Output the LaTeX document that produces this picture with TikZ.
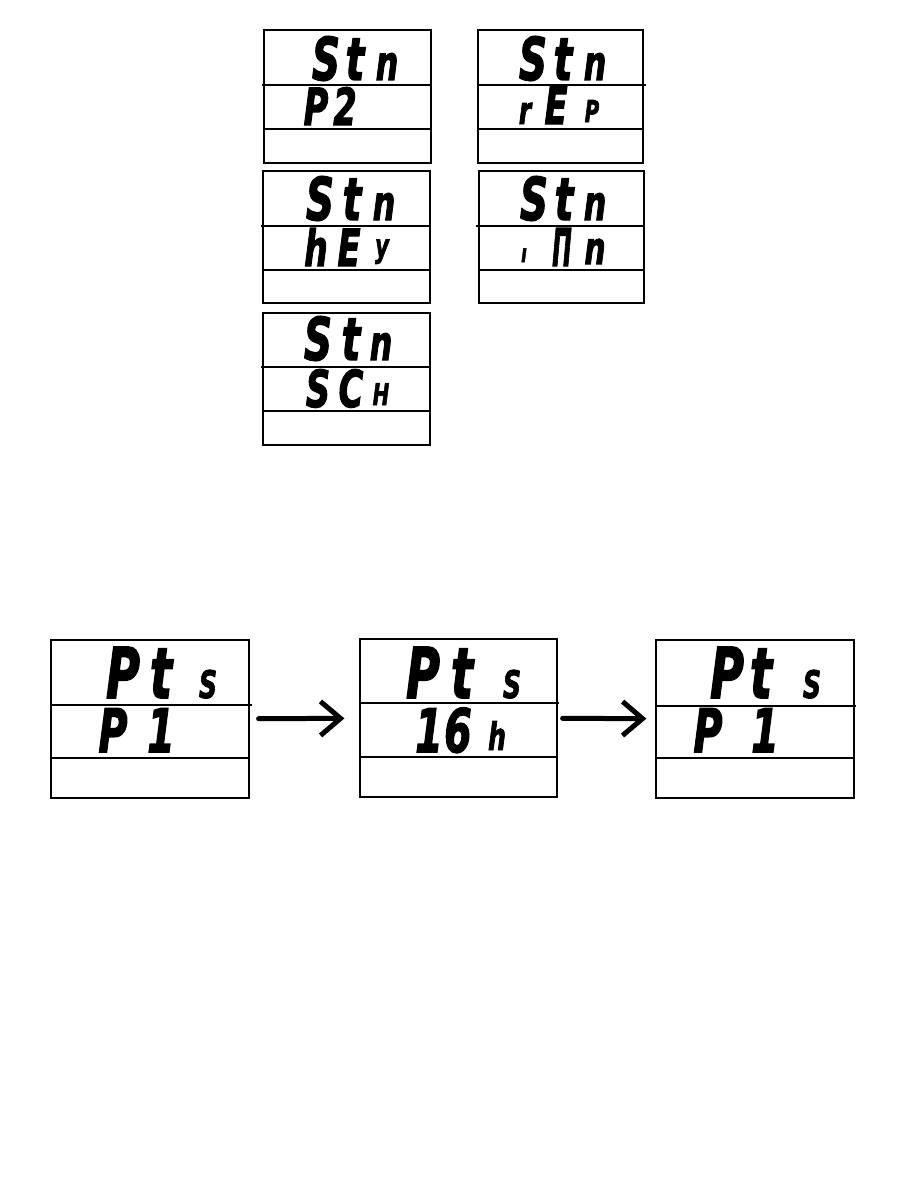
\documentclass[tikz,border=0pt]{standalone}
\usepackage{fontspec}
\setmainfont{DejaVu Sans}
\newfontfamily\lcdfont{DejaVu Sans}[BoldItalicFeatures={FakeBold=2.5}]
\usetikzlibrary{arrows.meta}
\newcommand\lcd[3][0.66]{\fontsize{#2}{#2}\selectfont\scalebox{#1}[1]{#3}}
\begin{document}
\begin{tikzpicture}[x=1pt,y=-1pt,
  disp/.style={draw, line width=1.2pt, inner sep=0},
  gl/.style={anchor=base, inner sep=0, font=\lcdfont\bfseries\itshape},
  sep/.style={line width=1.2pt},
  arr/.style={line width=5pt, line cap=round, -{Straight Barb[length=20pt,width=34pt,line width=5pt]}}]
\useasboundingbox (0,0) rectangle (907,1199);
% displays
\node[disp, minimum width=167pt, minimum height=133pt] (d1) at (347.5,96.5) {};
\node[disp, minimum width=165pt, minimum height=133pt] (d2) at (560.5,96.5) {};
\node[disp, minimum width=167pt, minimum height=132pt] (d3) at (346.5,237) {};
\node[disp, minimum width=165pt, minimum height=132pt] (d4) at (561.5,237) {};
\node[disp, minimum width=167pt, minimum height=132pt] (d5) at (346.5,379) {};
\node[disp, minimum width=198pt, minimum height=158pt] (dA) at (150,719) {};
\node[disp, minimum width=197pt, minimum height=158pt] (dB) at (458.5,718) {};
\node[disp, minimum width=198pt, minimum height=158pt] (dC) at (755,719) {};
% separators
\draw[sep] (262,85) -- (431,85) (264,129) -- (431,129);
\draw[sep] (478,85) -- (646,85) (478,129) -- (643,129);
\draw[sep] (261,226) -- (430,226) (263,270) -- (430,270);
\draw[sep] (476,226) -- (644,226) (479,270) -- (644,270);
\draw[sep] (261,367) -- (430,367) (263,411) -- (430,411);
\draw[sep] (51,705) -- (252,705) (51,758) -- (249,758);
\draw[sep] (360,703) -- (559,703) (360,757) -- (557,757);
\draw[sep] (657,706) -- (856,706) (656,758) -- (854,758);
% box 1
\node[gl] (g1a) at (326,80) {\lcd{59}{S}};
\node[gl] (g1b) at (355,80) {\lcd{59}{t}};
\node[gl] (g1c) at (387,80) {\lcd{48}{n}};
\node[gl] (g1d) at (316,125) {\lcd{51}{P}};
\node[gl] (g1e) at (345,125) {\lcd{51}{2}};
% box 2
\node[gl] (g2a) at (533,80) {\lcd{59}{S}};
\node[gl] (g2b) at (563,80) {\lcd{59}{t}};
\node[gl] (g2c) at (595,80) {\lcd{48}{n}};
\node[gl] (g2d) at (525,124) {\lcd{38}{r}};
\node[gl] (g2e) at (556,124) {\lcd{51}{E}};
\node[gl] (g2f) at (592,122) {\lcd{30}{P}};
% box 3
\node[gl] (g3a) at (320,220) {\lcd{59}{S}};
\node[gl] (g3b) at (352,220) {\lcd{59}{t}};
\node[gl] (g3c) at (384,220) {\lcd{48}{n}};
\node[gl] (g3d) at (316,266) {\lcd{50}{h}};
\node[gl] (g3e) at (349,266) {\lcd{51}{E}};
\node[gl] (g3f) at (382,257) {\lcd{32}{y}};
% box 4
\node[gl] (g4a) at (534,220) {\lcd{59}{S}};
\node[gl] (g4b) at (564,220) {\lcd{59}{t}};
\node[gl] (g4c) at (595,220) {\lcd{48}{n}};
\node[gl] (g4d) at (524,262) {\lcd{25}{ı}};
\node[gl] (g4e) at (562,266) {\lcd[0.45]{52}{Π}};
\node[gl] (g4f) at (595,264) {\lcd{45}{n}};
% box 5
\node[gl] (g5a) at (318,360) {\lcd{59}{S}};
\node[gl] (g5b) at (351,360) {\lcd{59}{t}};
\node[gl] (g5c) at (381,360) {\lcd{48}{n}};
\node[gl] (g5d) at (318,407) {\lcd{51}{S}};
\node[gl] (g5e) at (351,407) {\lcd{51}{C}};
\node[gl] (g5f) at (381,405) {\lcd{30}{H}};
% box A
\node[gl] (gAa) at (123,698) {\lcd{70}{P}};
\node[gl] (gAb) at (161,698) {\lcd{70}{t}};
\node[gl] (gAc) at (208,698) {\lcd{38}{S}};
\node[gl] (gAd) at (113,752) {\lcd{60}{P}};
\node[gl] (gAe) at (161,752) {\lcd{60}{1}};
% box B
\node[gl] (gBa) at (423,698) {\lcd{70}{P}};
\node[gl] (gBb) at (462,698) {\lcd{70}{t}};
\node[gl] (gBc) at (512,698) {\lcd{38}{S}};
\node[gl] (gBd) at (429,752) {\lcd{60}{1}};
\node[gl] (gBe) at (458,752) {\lcd{60}{6}};
\node[gl] (gBf) at (497,750) {\lcd{38}{h}};
% box C
\node[gl] (gCa) at (727,698) {\lcd{70}{P}};
\node[gl] (gCb) at (761,698) {\lcd{70}{t}};
\node[gl] (gCc) at (812,698) {\lcd{38}{S}};
\node[gl] (gCd) at (708,752) {\lcd{60}{P}};
\node[gl] (gCe) at (765,752) {\lcd{60}{1}};
% arrows
\draw[arr, shorten <=9pt, shorten >=15pt] (dA) -- (dB);
\draw[arr, shorten <=5pt, shorten >=9pt] (dB) -- (dC);
\end{tikzpicture}
\end{document}
